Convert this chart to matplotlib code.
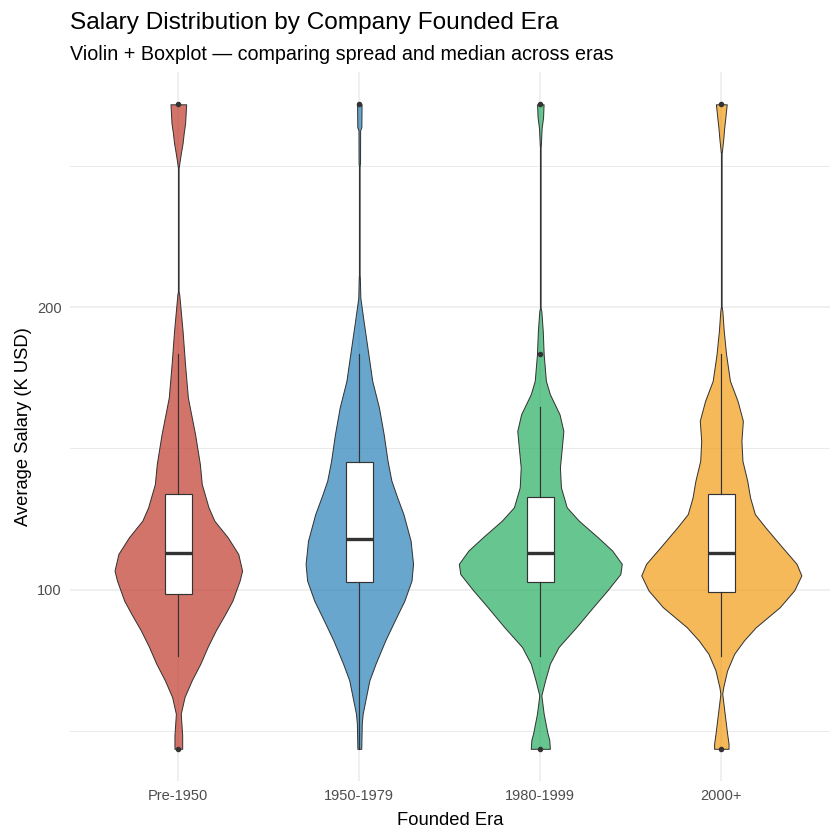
import numpy as np
import matplotlib.pyplot as plt
from matplotlib.colors import to_rgba

# ==========================================
# 1. DATA
# ==========================================
eras = ["Pre-1950", "1950-1979", "1980-1999", "2000+"]
fill_colors = ["#C0392B", "#2980B9", "#27AE60", "#F39C12"]

# violin outlines: salary level (K USD) and relative density (half width)
pre1950_y = [43.8, 48.6, 56.2, 62.1, 68.0, 73.9, 79.8, 85.6, 91.5, 96.2, 103.3, 106.8,
             112.7, 118.6, 124.5, 129.2, 137.4, 144.5, 155.0, 168.0, 179.8, 191.5, 198.6,
             204.5, 206.0, 248.4, 250.9, 254.4, 258.0, 261.5, 265.0, 271.7]
pre1950_d = [3.8, 3.8, 2.4, 6.1, 13.2, 21.7, 28.8, 36.8, 46.2, 53.3, 60.4, 62.8,
             59.0, 48.6, 35.4, 29.7, 23.1, 21.2, 16.5, 9.4, 6.6, 4.2, 2.4,
             0.9, 0.0, 0.0, 1.0, 2.5, 4.2, 5.3, 6.7, 7.7]

e1950_y = [43.8, 52.7, 56.2, 62.1, 68.0, 73.9, 82.1, 89.2, 96.2, 103.3, 109.2, 117.4,
           126.8, 132.7, 138.6, 145.6, 155.0, 164.5, 173.9, 185.6, 195.0, 203.3, 210.6,
           212.0, 249.0, 250.9, 262.5, 263.6, 271.7]
e1950_d = [1.9, 2.4, 3.3, 6.6, 9.9, 16.0, 25.5, 34.9, 44.4, 51.4, 52.9, 50.5,
           43.4, 37.3, 31.6, 27.8, 24.0, 19.3, 12.7, 8.0, 4.2, 1.0, 0.5,
           0.0, 0.0, 0.7, 0.8, 2.0, 2.2]

e1980_y = [43.8, 47.0, 49.2, 56.2, 62.7, 68.0, 73.9, 79.8, 86.8, 93.9, 99.8, 105.6,
           109.2, 113.9, 118.6, 124.5, 129.2, 136.2, 143.3, 150.4, 156.2, 162.1, 169.2,
           173.9, 183.3, 191.5, 198.6, 200.0, 256.0, 257.2, 258.0, 263.3, 267.1, 271.7]
e1980_d = [9.4, 8.8, 7.1, 3.3, 1.0, 4.7, 9.4, 18.0, 35.4, 51.9, 66.0, 78.8,
           80.2, 70.8, 56.6, 37.8, 26.0, 20.3, 19.3, 21.2, 22.7, 18.9, 9.4,
           5.5, 3.3, 2.4, 1.0, 0.0, 0.0, 0.5, 0.6, 1.3, 2.7, 3.2]

e2000_y = [43.8, 45.6, 49.2, 56.2, 63.3, 65.6, 71.5, 77.4, 82.1, 86.8, 93.9, 99.8,
           105.1, 109.2, 115.1, 122.1, 126.8, 132.7, 138.6, 145.6, 152.7, 159.8, 166.8,
           173.9, 183.3, 191.5, 198.6, 201.0, 254.0, 254.8, 259.1, 263.3, 267.1, 271.7]
e2000_d = [7.1, 7.1, 5.7, 3.3, 0.9, 1.9, 5.7, 12.7, 22.2, 34.0, 57.6, 71.7,
           78.8, 74.1, 59.9, 43.4, 33.0, 28.3, 25.5, 20.8, 19.8, 21.2, 16.0,
           8.5, 4.7, 2.4, 1.0, 0.0, 0.0, 0.5, 1.8, 2.8, 4.0, 5.3]

violin_y = [pre1950_y, e1950_y, e1980_y, e2000_y]
violin_d = [pre1950_d, e1950_d, e1980_d, e2000_d]

# boxplot summaries
whisker_low = [76.6, 43.8, 76.6, 76.6]
q1 = [98.7, 102.9, 102.9, 99.4]
median = [113.1, 118.1, 113.1, 113.1]
q3 = [134.0, 145.3, 132.8, 134.0]
whisker_high = [183.4, 183.4, 164.5, 183.4]
outliers = [[43.8, 271.7], [271.7], [43.8, 183.3, 271.7], [43.8, 271.7]]

# ==========================================
# 2. PLOT
# ==========================================
plt.rcParams['font.family'] = ['Liberation Sans', 'DejaVu Sans']

fig = plt.figure(figsize=(7, 7), dpi=120)
ax = fig.add_axes([0.083, 0.0702, 0.905, 0.844])

edge = "#333333"
dmax = max(max(d) for d in violin_d)
for i, (ys, ds, col) in enumerate(zip(violin_y, violin_d, fill_colors)):
    pos = i + 1
    half = np.array(ds) / dmax * 0.45
    ax.fill_betweenx(ys, pos - half, pos + half, facecolor=to_rgba(col, 0.7),
                     edgecolor=edge, linewidth=0.6, zorder=2)

stats = []
for i in range(len(eras)):
    stats.append(dict(whislo=whisker_low[i], q1=q1[i], med=median[i], q3=q3[i],
                      whishi=whisker_high[i], fliers=outliers[i]))
ax.bxp(stats, positions=range(1, len(eras) + 1), widths=0.15, patch_artist=True,
       showcaps=False, manage_ticks=False,
       boxprops=dict(facecolor="white", edgecolor=edge, linewidth=0.7),
       whiskerprops=dict(color=edge, linewidth=0.7),
       medianprops=dict(color=edge, linewidth=2.0),
       flierprops=dict(marker="o", markerfacecolor=edge, markeredgecolor=edge,
                       markersize=2.3, linestyle="none"),
       zorder=3)

all_y = np.concatenate([np.array(v) for v in violin_y])
span = all_y.max() - all_y.min()
ax.set_ylim(all_y.min() - 0.05 * span, all_y.max() + 0.05 * span)
ax.set_xlim(0.4, len(eras) + 0.6)

ax.set_xticks(range(1, len(eras) + 1))
ax.set_xticklabels(eras)
ax.set_yticks([100, 200])
ax.set_yticks([50, 150, 250], minor=True)
ax.tick_params(axis="both", which="both", length=0, labelsize=8.8,
               labelcolor="#4D4D4D", pad=5)
ax.grid(which="major", color="#EBEBEB", linewidth=0.9)
ax.grid(which="minor", axis="y", color="#EBEBEB", linewidth=0.6)
ax.set_axisbelow(True)
for s in ax.spines.values():
    s.set_visible(False)

ax.set_xlabel("Founded Era", fontsize=11, labelpad=5)
ax.set_ylabel("Average Salary (K USD)", fontsize=11, labelpad=3)

fig.text(0.083, 1 - 29 / 840, "Salary Distribution by Company Founded Era",
         fontsize=14.6, va="baseline", ha="left")
fig.text(0.083, 1 - 60 / 840, "Violin + Boxplot \u2014 comparing spread and median across eras",
         fontsize=11.85, va="baseline", ha="left")

plt.savefig("out.png", dpi=120)
